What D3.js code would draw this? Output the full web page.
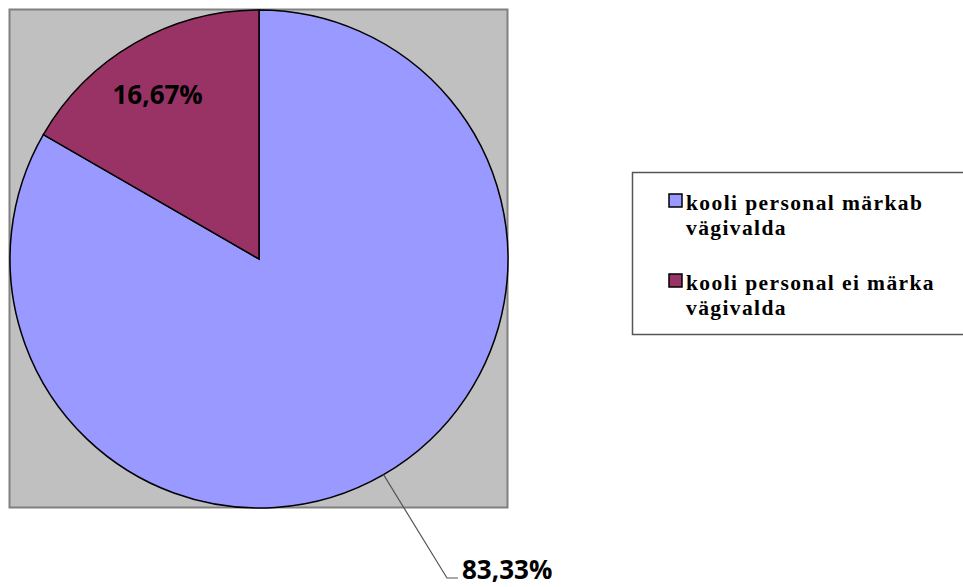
<!DOCTYPE html>
<html lang="et">
<head>
  <meta charset="UTF-8">
  <title>Pie</title>
  <style>
    body { margin: 0; background: #fff; }
  </style>
</head>
<body>
  <svg></svg>
  <script src="https://cdn.jsdelivr.net/npm/d3@7"></script>
  <script>
    var categories = ["kooli personal märkab vägivalda", "kooli personal ei märka vägivalda"]
    var legendLines = [["kooli personal märkab", "vägivalda"], ["kooli personal ei märka", "vägivalda"]]
    var values = [83.33, 16.67]
    var labels = ["83,33%", "16,67%"]
    var colors = ["#9999FF", "#993366"]

    var width = 963
    var height = 587
    var cx = 259, cy = 259, radius = 249

    var svg = d3.select("svg")
      .attr("width", width)
      .attr("height", height)

    // plot area
    svg.append("rect")
      .attr("x", 9.5).attr("y", 9.5)
      .attr("width", 498).attr("height", 498)
      .attr("fill", "#C0C0C0")
      .attr("stroke", "#808080")
      .attr("stroke-width", 2)

    var pie = d3.pie().sort(null).value(d => d)
    var arcs = pie(values)
    var arc = d3.arc().innerRadius(0).outerRadius(radius)

    var g = svg.append("g").attr("transform", `translate(${cx},${cy})`)
    g.selectAll("path")
      .data(arcs)
      .join("path")
      .attr("d", arc)
      .attr("fill", (d, i) => colors[i])
      .attr("stroke", "#000")
      .attr("stroke-width", 1.5)

    // label inside small slice
    var inner = d3.arc().innerRadius(radius * 0.79).outerRadius(radius * 0.79)
    var c1 = inner.centroid(arcs[1])
    g.append("text")
      .attr("x", c1[0] - 3).attr("y", c1[1] + 15)
      .attr("text-anchor", "middle")
      .attr("font-family", "'Open Sans', sans-serif")
      .attr("font-weight", "bold")
      .attr("font-size", 26)
      .attr("fill", "#000")
      .text(labels[1])

    // leader line for big slice
    var edge = d3.arc().innerRadius(radius).outerRadius(radius).centroid(arcs[0])
    var elbow = [188, 319]
    g.append("polyline")
      .attr("points", [edge, elbow, [elbow[0] + 11, elbow[1]]].map(p => p.join(",")).join(" "))
      .attr("fill", "none")
      .attr("stroke", "#555")
      .attr("stroke-width", 1.2)
    g.append("text")
      .attr("x", elbow[0] + 15).attr("y", elbow[1] + 1)
      .attr("font-family", "'Open Sans', sans-serif")
      .attr("font-weight", "bold")
      .attr("font-size", 26)
      .attr("fill", "#000")
      .text(labels[0])

    // legend
    var legend = svg.append("g")
    legend.append("rect")
      .attr("x", 632.5).attr("y", 172.5)
      .attr("width", 340).attr("height", 162)
      .attr("fill", "#fff")
      .attr("stroke", "#555")
      .attr("stroke-width", 1.5)

    var item = legend.selectAll("g.item")
      .data(categories)
      .join("g")
      .attr("class", "item")
      .attr("transform", (d, i) => `translate(0,${i * 80})`)
    item.append("rect")
      .attr("x", 669).attr("y", 194)
      .attr("width", 13).attr("height", 13)
      .attr("fill", (d, i) => colors[i])
      .attr("stroke", "#000")
      .attr("stroke-width", 1.5)
    item.append("text")
      .attr("font-family", "'Liberation Serif', 'Times New Roman', serif")
      .attr("font-weight", "bold")
      .attr("font-size", 21.5)
      .attr("letter-spacing", 1.4)
      .attr("fill", "#000")
      .selectAll("tspan")
      .data((d, i) => legendLines[i])
      .join("tspan")
      .attr("x", 686)
      .attr("y", (d, j) => 210 + j * 25)
      .text(d => d)
  </script>
</body>
</html>
